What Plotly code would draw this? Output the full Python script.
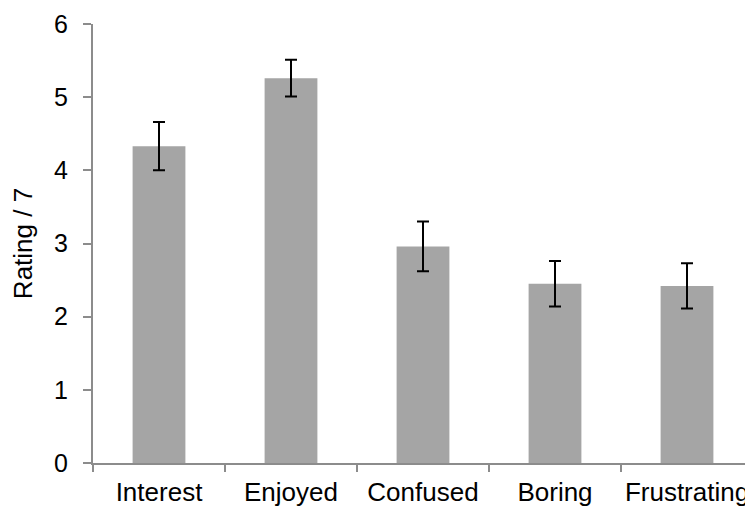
import plotly.graph_objects as go

categories = ["Interest", "Enjoyed", "Confused", "Boring", "Frustrating"]
ratings = [4.33, 5.26, 2.96, 2.45, 2.42]
errors = [0.33, 0.25, 0.34, 0.31, 0.31]
y_ticks = [0, 1, 2, 3, 4, 5, 6]

fig = go.Figure(
    go.Bar(
        x=categories,
        y=ratings,
        marker=dict(color="#A5A5A5", line=dict(width=0)),
        error_y=dict(type="data", array=errors, visible=True,
                     color="black", thickness=2, width=6),
    )
)

FONT = "Liberation Sans, Arial, sans-serif"
# page body has an 8px default margin, so the figure is sized/offset to compensate
fig.update_layout(
    width=745, height=498,
    margin=dict(l=85, r=0, t=16, b=43),
    paper_bgcolor="white", plot_bgcolor="white",
    bargap=0.6,
    showlegend=False,
    font=dict(family=FONT, color="black", size=26),
)
fig.update_xaxes(
    showline=True, linecolor="#8c8c8c", linewidth=2,
    ticks="outside", tickson="boundaries", ticklen=7, tickcolor="#8c8c8c", tickwidth=2,
    tickfont=dict(size=26), ticklabelstandoff=5, tickangle=0,
    showgrid=False, zeroline=False, automargin=False,
)
fig.update_yaxes(
    range=[0, 6], tickvals=y_ticks,
    showline=True, linecolor="#8c8c8c", linewidth=2,
    ticks="outside", ticklen=8, tickcolor="#8c8c8c", tickwidth=2,
    tickfont=dict(size=25), ticklabelstandoff=10,
    showgrid=False, zeroline=False, automargin=False,
    title=dict(text="Rating / 7", font=dict(size=26), standoff=14),
)

fig.write_html("out.html")
